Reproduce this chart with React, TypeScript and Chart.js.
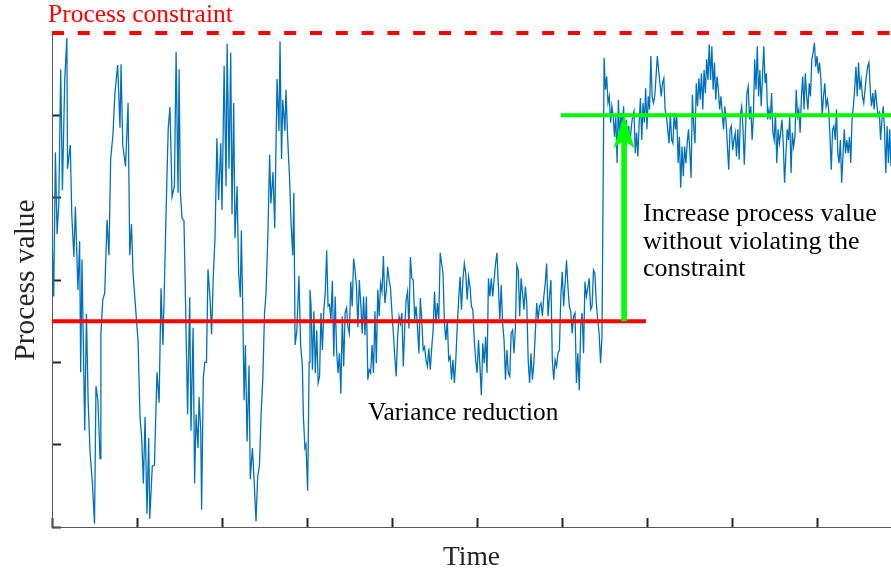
import React, { useEffect, useRef } from 'react';
import { Chart, registerables } from 'chart.js';

Chart.register(...registerables);

const SERIF = '"Liberation Serif", "Times New Roman", "DejaVu Serif", serif';

// Time is in samples (40 samples between x ticks); values in process units (0..6).
const timeA = [0, 0.8, 1.6, 2.4, 3.2, 4.1, 4.9, 6.0, 7.0, 7.3, 8.6, 9.3, 10.3, 11.0, 12.2, 13.0, 13.5, 14.1, 15.4, 16.2, 17.0, 17.9, 19.0, 20.0, 20.7, 21.6, 22.6, 23.0, 23.9, 24.8, 25.9, 26.8, 27.6, 28.7, 29.6, 30.9, 32.0, 32.5, 33.3, 34.6, 35.8, 36.6, 37.4, 38.1, 39.3, 40.5, 41.4, 42.2, 43.0, 43.8, 44.7, 45.5, 46.0, 47.2, 48.2, 49.4, 50.4, 51.3, 52.2, 52.7, 53.9, 54.7, 55.5, 56.5, 57.6, 58.4, 59.3, 59.8, 60.4, 61.2, 62.1, 62.6, 63.8, 64.8, 65.4, 66.4, 67.1, 67.8, 68.7, 69.2, 70.0, 70.4, 71.2, 71.9, 72.7, 73.4, 74.4, 75.1, 75.9, 76.7, 77.6, 78.4, 79.4, 80.0, 81.0, 81.9, 82.4, 83.3, 84.1, 84.7, 85.5, 86.1, 87.1, 87.8, 88.6, 89.1, 89.8, 90.4, 91.0, 91.8, 92.7, 93.3, 94.3, 95.0, 96.0, 96.8, 97.6, 98.4, 99.2, 100.0, 100.7, 101.6, 102.4, 103.0, 104.0, 104.8, 105.9, 106.8, 107.3, 108.0, 108.6, 109.6, 110.1, 110.9, 111.8, 112.5, 113.3, 113.8, 114.4, 115.2, 116.2, 117.0, 117.8, 118.3, 119.0, 119.5, 120.3, 121.0, 121.4];
const valueA = [3.56, 2.80, 4.55, 3.56, 3.93, 5.56, 4.09, 5.44, 5.94, 4.35, 4.64, 3.80, 3.28, 3.89, 2.88, 3.47, 1.88, 3.25, 1.17, 2.59, 1.54, 0.91, 0.53, 0.04, 1.71, 1.54, 0.83, 2.34, 2.76, 2.84, 3.73, 3.30, 4.47, 4.77, 5.27, 5.61, 4.85, 5.62, 4.64, 4.38, 5.15, 3.30, 3.68, 3.10, 2.67, 2.26, 1.34, 1.08, 0.53, 1.34, 0.16, 1.08, 0.10, 0.74, 0.75, 1.88, 1.51, 2.90, 2.21, 2.72, 4.06, 4.85, 5.10, 4.01, 4.14, 5.77, 4.06, 5.56, 4.06, 3.75, 3.72, 3.05, 1.37, 2.79, 1.17, 2.42, 0.53, 1.37, 0.96, 1.58, 1.17, 0.21, 1.80, 2.00, 2.00, 3.13, 2.76, 2.34, 3.05, 3.51, 4.72, 3.97, 4.66, 3.85, 5.60, 4.14, 5.87, 4.35, 5.76, 3.80, 5.15, 3.51, 4.14, 3.10, 2.79, 3.60, 2.59, 1.54, 2.21, 1.04, 1.96, 0.58, 0.96, 0.62, 0.07, 0.62, 0.74, 1.37, 1.80, 2.59, 2.84, 3.56, 4.52, 3.93, 4.31, 3.63, 5.44, 4.81, 5.90, 4.47, 5.19, 4.81, 5.31, 4.72, 4.23, 3.68, 3.30, 4.06, 2.21, 2.38, 3.05, 2.21, 1.96, 1.34, 0.96, 1.00, 0.44, 2.00, 2.88];

const startB = 121.9;
const endB = 258.8;
const valueB = [2.68, 1.91, 2.62, 1.87, 2.39, 1.75, 1.83, 2.60, 2.15, 2.64, 2.84, 3.36, 2.68, 2.70, 2.52, 2.99, 2.07, 2.80, 2.15, 1.87, 2.11, 1.62, 2.56, 1.95, 2.60, 2.66, 2.43, 2.35, 2.98, 2.68, 3.26, 3.12, 2.92, 2.43, 3.00, 2.72, 2.35, 2.80, 2.33, 2.80, 1.79, 1.91, 1.87, 2.21, 1.87, 2.62, 1.99, 2.88, 2.56, 2.96, 2.86, 3.29, 2.72, 2.86, 3.16, 3.00, 2.90, 2.60, 2.35, 2.07, 1.83, 2.31, 2.56, 2.47, 2.60, 1.95, 2.43, 2.76, 2.86, 2.41, 3.28, 3.02, 3.00, 2.52, 2.68, 2.43, 2.11, 2.78, 2.52, 2.15, 2.19, 2.03, 1.95, 2.17, 1.91, 2.17, 2.39, 2.86, 2.47, 2.72, 2.52, 3.33, 3.20, 3.08, 2.47, 2.27, 2.52, 2.03, 2.07, 1.79, 2.03, 1.75, 2.03, 2.43, 2.76, 3.04, 2.64, 3.00, 3.20, 3.08, 2.76, 3.04, 2.92, 2.68, 2.64, 2.27, 2.03, 1.87, 2.27, 1.95, 1.60, 2.23, 1.99, 2.31, 1.87, 3.02, 2.80, 3.02, 2.80, 3.00, 3.20, 3.33, 2.92, 2.52, 2.94, 2.47, 2.27, 1.79, 2.15, 1.87, 1.83, 2.35, 2.39, 2.11, 2.43, 3.18, 3.12, 2.56, 3.02, 2.84, 2.64, 2.92, 2.72, 2.03, 1.75, 2.11, 1.79, 1.99, 2.35, 2.72, 2.52, 2.68, 2.72, 2.56, 2.80, 2.96, 3.20, 2.56, 2.80, 3.00, 2.03, 1.79, 2.03, 1.95, 2.11, 2.15, 2.80, 3.10, 2.68, 2.96, 3.24, 2.92, 2.68, 2.62, 2.35, 2.56, 2.60, 1.75, 2.11, 1.66, 2.43, 2.60, 2.11, 2.98, 2.80, 2.90, 3.02, 2.64, 2.68, 3.12, 3.08, 2.72, 2.52, 2.35, 1.99, 2.31];

const startC = 259.8;
const endC = 394.8;
const valueC = [5.70, 5.31, 5.47, 5.15, 5.23, 4.91, 5.11, 4.99, 4.74, 4.99, 4.42, 5.19, 4.70, 5.03, 4.87, 5.11, 4.70, 4.95, 4.74, 4.87, 4.66, 4.87, 4.99, 5.05, 4.54, 4.79, 4.50, 4.91, 5.21, 4.70, 5.15, 4.91, 5.33, 4.83, 5.23, 5.07, 5.72, 5.23, 5.15, 5.23, 5.47, 5.72, 5.55, 5.39, 5.23, 5.39, 5.45, 5.07, 4.99, 4.83, 4.66, 5.03, 4.70, 4.66, 5.03, 4.83, 4.99, 4.42, 4.74, 4.12, 4.62, 4.26, 4.62, 4.42, 4.66, 4.83, 4.58, 4.24, 5.25, 4.87, 4.66, 5.39, 5.11, 5.45, 5.19, 5.51, 5.07, 5.55, 5.27, 5.68, 5.43, 5.86, 5.43, 5.84, 5.31, 5.64, 5.19, 5.47, 5.31, 5.07, 5.23, 5.03, 4.83, 5.11, 4.91, 4.62, 4.34, 4.83, 4.87, 4.58, 4.70, 4.79, 4.50, 4.83, 4.46, 5.01, 5.11, 4.83, 4.40, 4.87, 5.27, 5.35, 4.95, 5.11, 4.70, 4.99, 5.68, 5.31, 5.84, 5.23, 5.55, 5.11, 5.47, 5.84, 5.39, 5.51, 4.95, 5.07, 4.95, 5.27, 4.79, 4.70, 5.03, 4.42, 4.83, 4.66, 4.79, 4.95, 4.66, 4.18, 4.50, 4.83, 4.70, 4.99, 4.30, 4.79, 4.62, 4.74, 5.31, 4.99, 5.07, 4.79, 5.23, 5.47, 5.07, 5.51, 5.23, 5.07, 5.39, 5.23, 5.68, 5.76, 5.88, 5.59, 5.72, 5.51, 5.64, 5.43, 4.99, 5.23, 5.39, 5.11, 5.19, 5.07, 4.74, 4.34, 4.83, 4.87, 4.70, 5.07, 4.54, 4.42, 4.70, 4.18, 4.50, 4.83, 4.54, 4.70, 4.54, 4.74, 4.42, 4.95, 5.11, 5.31, 5.59, 5.23, 5.64, 5.31, 5.43, 5.23, 5.15, 5.31, 5.47, 5.59, 5.64, 5.31, 5.11, 5.27, 5.07, 5.31, 5.15, 4.99, 5.03, 4.70, 4.95, 5.11, 4.83, 4.30, 4.87, 4.42, 4.83, 4.38];

const X_MAX = 394.8;
const X_STEP = 40;
const Y_MIN = 0;
const Y_MAX = 6;
const CONSTRAINT = 6;
const MEAN_BEFORE = 2.5;
const MEAN_BEFORE_END = 279.5;
const MEAN_AFTER = 5;
const MEAN_AFTER_START = 239.5;
const ARROW_TIME = 269.2;

const CONSTRAINT_LABEL = 'Process constraint';
const CONSTRAINT_LABEL_POS = { t: -1.9, v: 6.13 };
const NOTE_LINES = ['Increase process value', 'without violating the', 'constraint'];
const NOTE_POS = { t: 278.1, v: 3.72 };
const VARIANCE_LABEL = 'Variance reduction';
const VARIANCE_POS = { t: 148.7, v: 1.3 };
const X_TITLE = 'Time';
const Y_TITLE = 'Process value';

const BLUE = '#0072BD';
const RED = '#FF0000';
const GREEN = '#00FF00';

function uniformTimes(start: number, end: number, count: number): number[] {
  const out: number[] = [];
  for (let i = 0; i < count; i++) out.push(start + (i * (end - start)) / (count - 1));
  return out;
}

const timeB = uniformTimes(startB, endB, valueB.length);
const timeC = uniformTimes(startC, endC, valueC.length);

const seriesPoints = [
  ...timeA.map((t, i) => ({ x: t, y: valueA[i] })),
  ...timeB.map((t, i) => ({ x: t, y: valueB[i] })),
  ...timeC.map((t, i) => ({ x: t, y: valueC[i] })),
];

const annotationPlugin = {
  id: 'annotations',
  afterDatasetsDraw(chart: any) {
    const { ctx } = chart;
    const xs = chart.scales.x;
    const ys = chart.scales.y;
    ctx.save();

    // green arrow
    const ax = xs.getPixelForValue(ARROW_TIME);
    const yb = ys.getPixelForValue(MEAN_BEFORE);
    const yt = ys.getPixelForValue(MEAN_AFTER);
    ctx.fillStyle = GREEN;
    ctx.fillRect(ax - 2.8, yt + 22, 5.6, yb - (yt + 22));
    ctx.beginPath();
    ctx.moveTo(ax, yt);
    ctx.lineTo(ax + 10.5, yt + 33);
    ctx.lineTo(ax, yt + 25);
    ctx.lineTo(ax - 10.5, yt + 33);
    ctx.closePath();
    ctx.fill();

    ctx.textAlign = 'left';
    ctx.textBaseline = 'alphabetic';

    ctx.fillStyle = RED;
    ctx.font = `25.5px ${SERIF}`;
    ctx.fillText(CONSTRAINT_LABEL, xs.getPixelForValue(CONSTRAINT_LABEL_POS.t), ys.getPixelForValue(CONSTRAINT_LABEL_POS.v));

    ctx.fillStyle = '#000000';
    ctx.font = `26px ${SERIF}`;
    const nx = xs.getPixelForValue(NOTE_POS.t);
    const ny = ys.getPixelForValue(NOTE_POS.v);
    NOTE_LINES.forEach((line, i) => ctx.fillText(line, nx, ny + i * 27.8));

    ctx.font = `25.3px ${SERIF}`;
    ctx.fillText(VARIANCE_LABEL, xs.getPixelForValue(VARIANCE_POS.t), ys.getPixelForValue(VARIANCE_POS.v));

    ctx.restore();
  },
};

export default function App() {
  const ref = useRef<HTMLCanvasElement>(null);

  useEffect(() => {
    if (!ref.current) return;
    const chart = new Chart(ref.current, {
      type: 'line',
      data: {
        datasets: [
          {
            label: 'Process constraint',
            data: [{ x: 0, y: CONSTRAINT }, { x: X_MAX, y: CONSTRAINT }],
            borderColor: RED,
            borderWidth: 4,
            borderDash: [12, 13.8],
            pointRadius: 0,
            clip: false as any,
            order: 1,
          },
          {
            label: 'Mean before',
            data: [{ x: 0, y: MEAN_BEFORE }, { x: MEAN_BEFORE_END, y: MEAN_BEFORE }],
            borderColor: RED,
            borderWidth: 4,
            pointRadius: 0,
            order: 1,
          },
          {
            label: 'Mean after',
            data: [{ x: MEAN_AFTER_START, y: MEAN_AFTER }, { x: X_MAX, y: MEAN_AFTER }],
            borderColor: GREEN,
            borderWidth: 4,
            pointRadius: 0,
            order: 1,
          },
          {
            label: 'Process value',
            data: seriesPoints,
            borderColor: BLUE,
            borderWidth: 1.3,
            pointRadius: 0,
            tension: 0,
            order: 2,
          },
        ],
      },
      options: {
        animation: false,
        responsive: false,
        maintainAspectRatio: false,
        layout: { padding: { top: 33, right: 0, bottom: 0, left: 0 } },
        plugins: {
          legend: { display: false },
          tooltip: { enabled: false },
          title: { display: false },
        },
        scales: {
          x: {
            type: 'linear',
            min: 0,
            max: X_MAX,
            ticks: { display: false, stepSize: X_STEP, includeBounds: false },
            grid: {
              display: true,
              drawOnChartArea: false,
              drawTicks: true,
              tickLength: -9,
              tickColor: '#262626',
              tickWidth: 2,
            },
            border: { display: true, color: '#555555', width: 1 },
            title: {
              display: true,
              text: X_TITLE,
              color: '#262626',
              font: { family: SERIF, size: 27.5, weight: 'normal' },
              padding: { top: 0, bottom: -1 },
            },
            afterFit: (s: any) => {
              s.height = 46;
            },
          },
          y: {
            type: 'linear',
            min: Y_MIN,
            max: Y_MAX,
            ticks: { display: false, stepSize: 1 },
            grid: {
              display: true,
              drawOnChartArea: false,
              drawTicks: true,
              tickLength: -9,
              tickColor: '#262626',
              tickWidth: 2,
            },
            border: { display: true, color: '#555555', width: 1 },
            title: {
              display: true,
              text: Y_TITLE,
              color: '#262626',
              font: { family: SERIF, size: 29.5, weight: 'normal' },
              padding: { top: 9, bottom: 0 },
            },
            afterFit: (s: any) => {
              s.width = 52;
            },
          },
        },
      } as any,
      plugins: [annotationPlugin],
    });
    return () => chart.destroy();
  }, []);

  return (
    <div style={{ position: 'absolute', left: 0, top: 0, width: 891, height: 573, background: '#ffffff' }}>
      <canvas ref={ref} width={891} height={573} style={{ display: 'block', width: 891, height: 573 }} />
    </div>
  );
}
